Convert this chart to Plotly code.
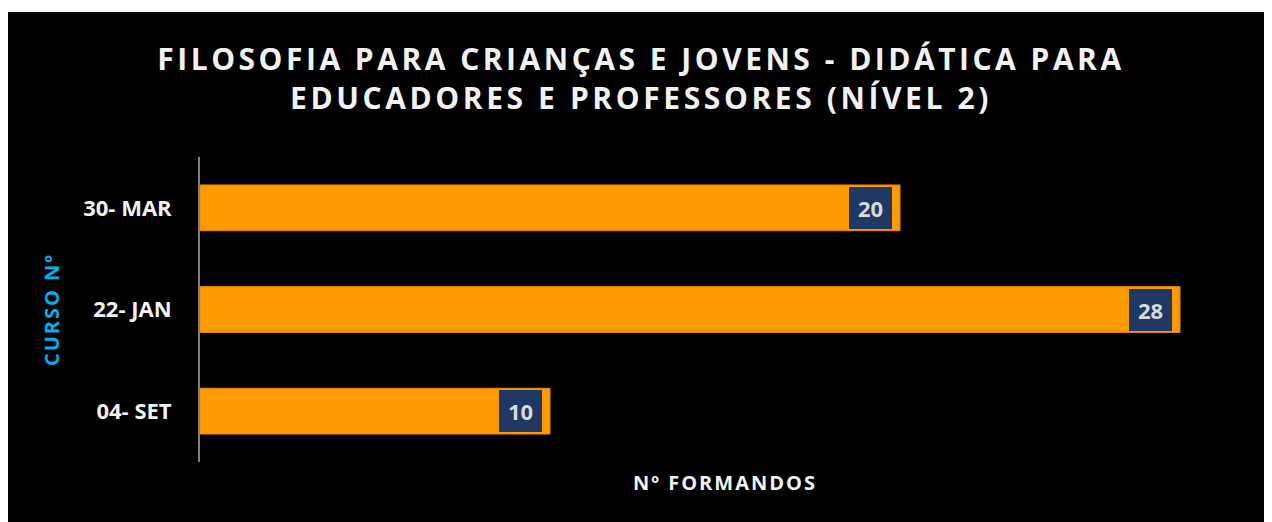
import plotly.graph_objects as go

# Data (top to bottom as displayed)
cursos = ["30- MAR", "22- JAN", "04- SET"]
formandos = [20, 28, 10]

title_line1 = "FILOSOFIA PARA CRIANÇAS E JOVENS - DIDÁTICA PARA"
title_line2 = "EDUCADORES E PROFESSORES (NÍVEL 2)"
x_title = "Nº FORMANDOS"
y_title = "CURSO Nº"

# page body adds an 8px offset; figure sized to the visible area
W, H = 1264, 514
L, R, T, B = 192, 22, 149, 60
pw, ph = W - L - R, H - T - B

def px_x(px):
    return (px - L) / pw

def px_y(py):
    return (H - B - py) / ph

def spaced(t, ls):
    return f'<span style="letter-spacing:{ls}px">{t}</span>'

FONT = "Open Sans"
TXT = "#f2f2f2"

fig = go.Figure()
fig.add_trace(go.Bar(
    x=formandos, y=cursos, orientation="h",
    marker=dict(color="#ff9a00", line=dict(color="#e68a00", width=1)),
    hoverinfo="skip",
))

annotations = []
for c, v in zip(cursos, formandos):
    annotations.append(dict(
        x=v, y=c, xref="x", yref="y", text=f"<b>{v}</b>", showarrow=False,
        xanchor="right", yanchor="middle", xshift=-8,
        bgcolor="#203864", borderpad=4, borderwidth=0,
        width=35, height=34, align="center", valign="middle",
        font=dict(family=FONT, size=22, color="#d9d9d9"),
    ))

title_html = "<b>" + spaced(title_line1, 3.5) + "<br>" + spaced(title_line2, 3.6) + "</b>"

fig.update_layout(
    width=W, height=H,
    margin=dict(l=L, r=R, t=T, b=B, autoexpand=False),
    paper_bgcolor="white", plot_bgcolor="black",
    showlegend=False,
    bargap=0.55,
    title=dict(
        text=title_html, x=(641 - 8) / W, xanchor="center", xref="container",
        y=1 - 62 / H, yanchor="middle", yref="container",
        font=dict(family=FONT, size=30, color=TXT),
    ),
    xaxis=dict(
        range=[0, 30], showgrid=False, zeroline=False, showticklabels=False,
        ticks="", showline=False, fixedrange=True,
        title=dict(text="<b>" + spaced(x_title, 2) + "</b>", standoff=13,
                   font=dict(family=FONT, size=20, color=TXT)),
    ),
    yaxis=dict(
        type="category", categoryorder="array", categoryarray=cursos,
        range=[2.5, -0.5], showgrid=False, zeroline=False,
        showline=True, linecolor="#7f7f7f", linewidth=2, ticks="",
        ticklabelstandoff=22,
        tickfont=dict(family=FONT, size=22, color=TXT, weight="bold"),
        title=dict(text="<b>" + spaced(y_title, 2) + "</b>", standoff=18,
                   font=dict(family=FONT, size=20, color="#00b0f0")),
    ),
    shapes=[dict(
        type="rect", xref="paper", yref="paper", layer="below",
        x0=px_x(-10), x1=px_x(W + 10), y0=px_y(H + 10), y1=px_y(4),
        fillcolor="black", line=dict(width=0),
    )],
    annotations=annotations,
)

fig.write_html("out.html")
